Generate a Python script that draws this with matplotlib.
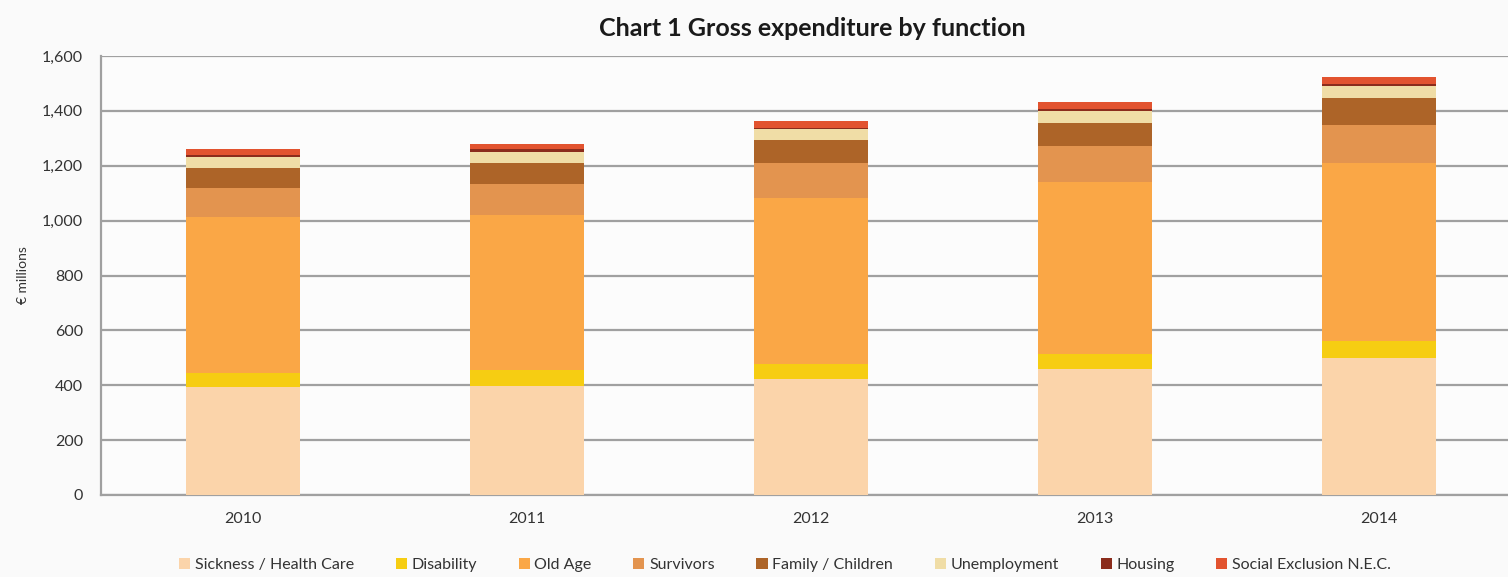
import numpy as np
import matplotlib
matplotlib.use("Agg")
import matplotlib.pyplot as plt
from matplotlib.ticker import FuncFormatter

plt.rcParams['font.family'] = ['Lato', 'DejaVu Sans']

# data (€ millions)
years = ['2010', '2011', '2012', '2013', '2014']
functions = ['Sickness / Health Care', 'Disability', 'Old Age', 'Survivors',
             'Family / Children', 'Unemployment', 'Housing', 'Social Exclusion N.E.C.']
sickness = [393, 398, 423, 460, 500]
disability = [53, 56, 53, 54, 60]
old_age = [566, 566, 607, 628, 650]
survivors = [106, 114, 127, 130, 139]
family = [75, 76, 84, 83, 98]
unemployment = [38, 39, 39, 45, 45]
housing = [9, 13, 6, 8, 7]
social_excl = [22, 17, 24, 25, 25]

colors = ['#FBD4AA', '#F6CD12', '#FAA746', '#E3944F',
          '#AD6428', '#F0DDA6', '#8B2C1C', '#E2532F']

series = [sickness, disability, old_age, survivors, family,
          unemployment, housing, social_excl]

fig = plt.figure(figsize=(15.08, 5.77), dpi=100, facecolor='#fafafa')
ax = fig.add_axes([101 / 1508, 82 / 577, 1420 / 1508, 439 / 577])
ax.set_facecolor('#fcfcfc')

x = np.arange(len(years))
bottom = np.zeros(len(years))
for name, vals, c in zip(functions, series, colors):
    ax.bar(x, vals, 0.4, bottom=bottom, color=c, label=name, zorder=3)
    bottom += np.array(vals)

ax.set_xlim(-0.5, 4.5)
ax.set_ylim(0, 1600)
ax.set_yticks(np.arange(0, 1601, 200))
ax.yaxis.set_major_formatter(FuncFormatter(lambda v, p: '{:,.0f}'.format(v)))
ax.set_xticks(x)
ax.set_xticklabels(years)
ax.grid(axis='y', color='#a0a0a0', linewidth=1.6, zorder=0)
ax.set_axisbelow(True)
for s in ['top', 'right']:
    ax.spines[s].set_visible(False)
for s in ['left', 'bottom']:
    ax.spines[s].set_color('#a0a0a0')
    ax.spines[s].set_linewidth(1.6)
ax.tick_params(axis='y', length=0, pad=13, labelsize=11.5, labelcolor='#333333')
ax.tick_params(axis='x', length=0, pad=12, labelsize=11.5, labelcolor='#333333')
ax.set_ylabel('€ millions', fontsize=10, color='#333333', labelpad=9)

fig.text(812 / 1508, 1 - 29 / 577, 'Chart 1 Gross expenditure by function',
         ha='center', va='center', fontsize=18, fontweight='bold', color='#1a1a1a')

# legend along the bottom
handles, labels = ax.get_legend_handles_labels()
fig.legend(handles, labels, loc='center', bbox_to_anchor=(785 / 1508, 1 - 565 / 577),
           ncol=8, frameon=False, fontsize=11.5, handlelength=0.7, handleheight=0.7,
           handletextpad=0.3, columnspacing=2.6, labelcolor='#333333')

fig.savefig('out.png', dpi=100, facecolor=fig.get_facecolor())
